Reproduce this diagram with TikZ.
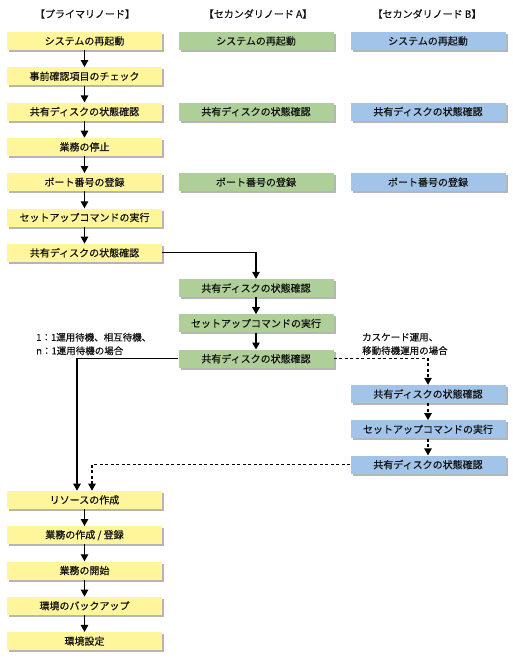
\documentclass[tikz,border=0pt]{standalone}
\usepackage{fontspec}
\setmainfont{Noto Sans CJK JP}
\newfontfamily\jpfont{Noto Sans CJK JP}[FakeBold=0.4]
\usetikzlibrary{arrows.meta,shadows}
\definecolor{ybox}{HTML}{FFF59B}
\definecolor{gbox}{HTML}{AFCF98}
\definecolor{bbox}{HTML}{A2C4E8}
\definecolor{shadowc}{HTML}{B5B5B5}
\definecolor{txt}{HTML}{111111}
\tikzset{
  box/.style={minimum width=155pt, minimum height=18pt, inner sep=0pt,
    font=\jpfont\fontsize{10}{12}\selectfont, text=txt,
    drop shadow={shadow xshift=2pt, shadow yshift=-2pt, fill=shadowc, opacity=1}},
  ybx/.style={box, fill=ybox},
  gbx/.style={box, fill=gbox},
  bbx/.style={box, fill=bbox},
  head/.style={font=\jpfont\fontsize{10}{12}\selectfont, text=txt},
  lbl/.style={font=\jpfont\fontsize{9.5}{13.5}\selectfont, text=txt, align=left, anchor=west, inner sep=0pt},
  arr/.style={line width=1.2pt, -{Triangle[width=7.5pt,length=7pt]}},
  darr/.style={arr, dash pattern=on 3pt off 2.5pt},
}
\begin{document}
\begin{tikzpicture}[x=1pt,y=-1pt]
\useasboundingbox (0,0) rectangle (512,661);
\node[head] (hA) at (85,14) {【プライマリノード】};
\node[head] (hB) at (258,14) {【セカンダリノード A】};
\node[head] (hC) at (427,14) {【セカンダリノード B】};
% primary
\node[ybx] (y1) at (84.5,41) {システムの再起動};
\node[ybx] (y2) at (84.5,76.3) {事前確認項目のチェック};
\node[ybx] (y3) at (84.5,111.6) {共有ディスクの状態確認};
\node[ybx] (y4) at (84.5,146.9) {業務の停止};
\node[ybx] (y5) at (84.5,182.2) {ポート番号の登録};
\node[ybx] (y6) at (84.5,217.5) {セットアップコマンドの実行};
\node[ybx] (y7) at (84.5,252.8) {共有ディスクの状態確認};
% secondary A
\node[gbx] (g1) at (256,41) {システムの再起動};
\node[gbx] (g3) at (256,111.6) {共有ディスクの状態確認};
\node[gbx] (g5) at (256,182.2) {ポート番号の登録};
\node[gbx] (g8) at (256,288.1) {共有ディスクの状態確認};
\node[gbx] (g9) at (256,323.4) {セットアップコマンドの実行};
\node[gbx] (g10) at (256,358.7) {共有ディスクの状態確認};
% secondary B
\node[bbx] (b1) at (428,41) {システムの再起動};
\node[bbx] (b3) at (428,111.6) {共有ディスクの状態確認};
\node[bbx] (b5) at (428,182.2) {ポート番号の登録};
\node[bbx] (b11) at (428,394) {共有ディスクの状態確認};
\node[bbx] (b12) at (428,429.3) {セットアップコマンドの実行};
\node[bbx] (b13) at (428,464.6) {共有ディスクの状態確認};
% primary bottom
\node[ybx] (y14) at (84.5,499.9) {リソースの作成};
\node[ybx] (y15) at (84.5,535.2) {業務の作成 / 登録};
\node[ybx] (y16) at (84.5,570.5) {業務の開始};
\node[ybx] (y17) at (84.5,605.8) {環境のバックアップ};
\node[ybx] (y18) at (84.5,641.1) {環境設定};
% labels
\node[lbl] (lA) at (36,344) {1：1運用待機、相互待機、\\n：1運用待機の場合};
\node[lbl] (lB) at (362,344) {カスケード運用、\\移動待機運用の場合};
% connectors
\draw[arr] (y1) -- (y2);
\draw[arr] (y2) -- (y3);
\draw[arr] (y3) -- (y4);
\draw[arr] (y4) -- (y5);
\draw[arr] (y5) -- (y6);
\draw[arr] (y6) -- (y7);
\draw[arr] (y7.east) -| (g8.north);
\draw[arr] (g8) -- (g9);
\draw[arr] (g9) -- (g10);
\draw[arr] (g10.west) -| ([xshift=-7.5pt]y14.north);
\draw[darr] (g10.east) -| (b11.north);
\draw[darr] (b11) -- (b12);
\draw[darr] (b12) -- (b13);
\draw[darr] (b13.west) -| ([xshift=7.5pt]y14.north);
\draw[arr] (y14) -- (y15);
\draw[arr] (y15) -- (y16);
\draw[arr] (y16) -- (y17);
\draw[arr] (y17) -- (y18);
\end{tikzpicture}
\end{document}
